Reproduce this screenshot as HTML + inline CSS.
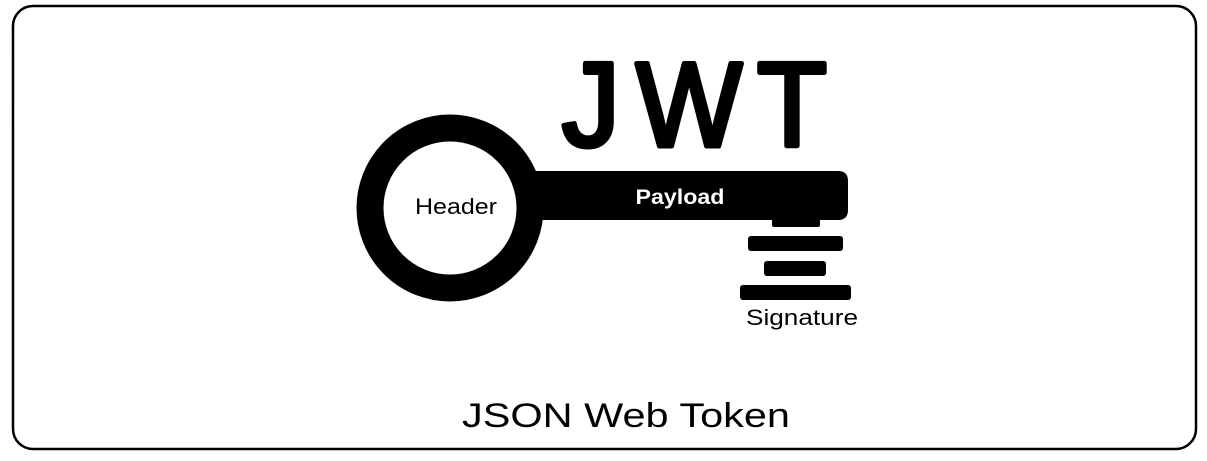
<!DOCTYPE html>
<html><head><style>
html,body{margin:0;padding:0;background:#fff;}
</style></head><body>
<svg width="1207" height="456" viewBox="0 0 1207 456" xmlns="http://www.w3.org/2000/svg" font-family="Liberation Sans, sans-serif">
<rect x="13" y="6" width="1183" height="443" rx="20" fill="none" stroke="#000" stroke-width="2.5"/>
<g font-size="120" stroke="#000" stroke-width="5" stroke-linejoin="round">
<text x="562" y="146" textLength="58" lengthAdjust="spacingAndGlyphs">J</text>
<text x="636" y="146" textLength="106" lengthAdjust="spacingAndGlyphs">W</text>
<text x="757" y="146" textLength="70" lengthAdjust="spacingAndGlyphs">T</text>
</g>
<circle cx="450" cy="208" r="80" fill="none" stroke="#000" stroke-width="27"/>
<path d="M525 171 H838 Q848 171 848 181 V210 Q848 220 838 220 H525 Z" fill="#000"/>
<rect x="772" y="216" width="48" height="11" rx="2" fill="#000"/>
<rect x="748" y="236" width="95" height="15" rx="3" fill="#000"/>
<rect x="764" y="261" width="62" height="15" rx="3" fill="#000"/>
<rect x="740" y="285" width="111" height="15" rx="3" fill="#000"/>
<text x="456" y="214" font-size="22" text-anchor="middle" textLength="82" lengthAdjust="spacingAndGlyphs">Header</text>
<text x="680" y="204" font-size="21" font-weight="bold" fill="#fff" text-anchor="middle" textLength="89" lengthAdjust="spacingAndGlyphs">Payload</text>
<text x="802" y="325" font-size="22" text-anchor="middle" textLength="112" lengthAdjust="spacingAndGlyphs">Signature</text>
<text x="626" y="427" font-size="34" text-anchor="middle" textLength="328" lengthAdjust="spacingAndGlyphs">JSON Web Token</text>
</svg>
</body></html>
